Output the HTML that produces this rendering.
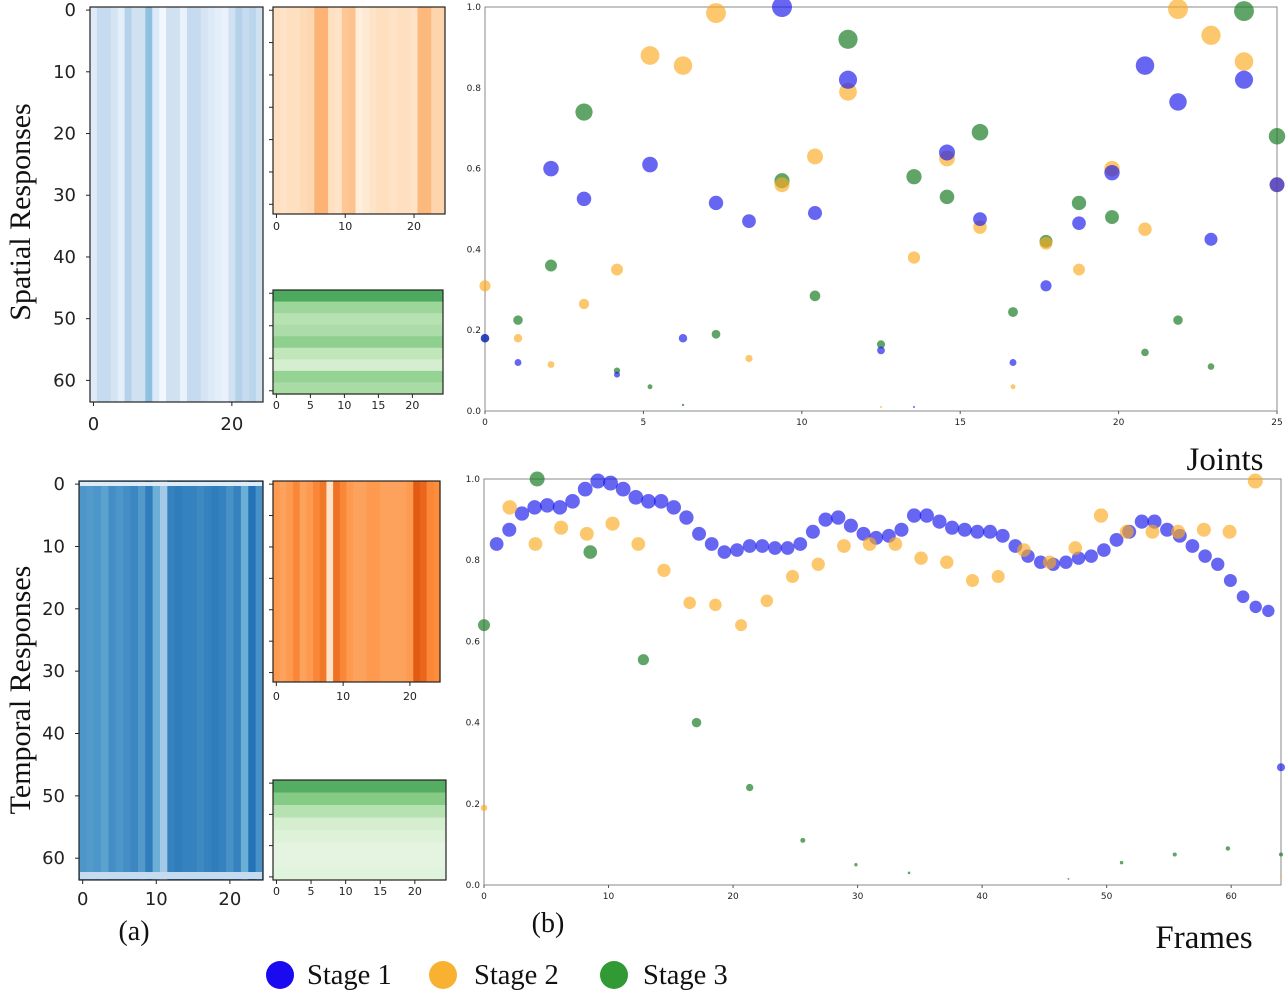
<!DOCTYPE html>
<html><head><meta charset="utf-8"><style>
html,body{margin:0;padding:0;background:#fff;}
svg{display:block;}
.t{font-family:"DejaVu Sans","Liberation Sans",sans-serif;fill:#222;}
.s{font-family:"Liberation Serif",serif;fill:#111;}
</style></head><body>
<svg id="root" width="1286" height="993" viewBox="0 0 1286 993" xmlns="http://www.w3.org/2000/svg">
<g id="heat"></g>
<g id="scat"></g>
<text class="s" x="0" y="0" font-size="30" text-anchor="middle" transform="translate(30,212) rotate(-90)">Spatial Responses</text>
<text class="s" x="0" y="0" font-size="30" text-anchor="middle" transform="translate(30,690) rotate(-90)">Temporal Responses</text>
<text class="s" x="1225" y="470" font-size="33" text-anchor="middle">Joints</text>
<text class="s" x="1204" y="948" font-size="33" text-anchor="middle">Frames</text>
<text class="s" x="134" y="940" font-size="28" text-anchor="middle">(a)</text>
<text class="s" x="548" y="932" font-size="28" text-anchor="middle">(b)</text>
<g>
<g><circle cx="280" cy="975" r="14" fill="#1a0af0"/><text class="s" x="307" y="984" font-size="28.5">Stage 1</text></g>
<g><circle cx="443" cy="975" r="14" fill="#f9b132"/><text class="s" x="474" y="984" font-size="28.5">Stage 2</text></g>
<g><circle cx="614" cy="975" r="14" fill="#319a35"/><text class="s" x="643" y="984" font-size="28.5">Stage 3</text></g>
</g>
</svg>
<script>
// ---------- data ----------
const spatialBlueCols=[0.12,0.25,0.25,0.18,0.1,0.3,0.2,0.2,0.4,0.14,0.03,0.2,0.2,0.07,0.25,0.25,0.18,0.14,0.1,0.07,0.2,0.3,0.25,0.28,0.2];
const temporalBlueCols=[0.6,0.58,0.6,0.55,0.63,0.6,0.63,0.66,0.58,0.7,0.5,0.35,0.68,0.7,0.68,0.68,0.65,0.68,0.7,0.68,0.62,0.68,0.5,0.74,0.62];
const spatialOrangeCols=[0.15,0.12,0.15,0.15,0.18,0.2,0.36,0.36,0.15,0.12,0.28,0.3,0.05,0.08,0.12,0.15,0.15,0.12,0.15,0.15,0.12,0.34,0.34,0.22,0.22];
const temporalOrangeCols=[0.45,0.42,0.45,0.52,0.42,0.45,0.52,0.58,0.12,0.6,0.52,0.45,0.42,0.42,0.45,0.45,0.42,0.42,0.42,0.42,0.45,0.68,0.64,0.52,0.5];
const spatialGreenRows=[0.62,0.38,0.3,0.33,0.42,0.27,0.18,0.4,0.34];
const temporalGreenRows=[0.6,0.45,0.3,0.18,0.13,0.1,0.1,0.12];

const jointStage1=[0.18,0.12,0.60,0.525,0.09,0.61,0.18,0.515,0.47,1.0,0.49,0.82,0.15,0.01,0.64,0.475,0.12,0.31,0.465,0.59,0.855,0.765,0.425,0.82,0.56];
const jointStage2=[0.31,0.18,0.115,0.265,0.35,0.88,0.855,0.985,0.13,0.56,0.63,0.79,0.01,0.38,0.625,0.455,0.06,0.415,0.35,0.60,0.45,0.995,0.93,0.865,0.56];
const jointStage3=[0.18,0.225,0.36,0.74,0.10,0.06,0.015,0.19,0.0,0.57,0.285,0.92,0.165,0.58,0.53,0.69,0.245,0.42,0.515,0.48,0.145,0.225,0.11,0.99,0.68];

const frameStage1=[0.0,0.84,0.875,0.915,0.93,0.935,0.93,0.945,0.975,0.995,0.99,0.975,0.955,0.945,0.945,0.93,0.905,0.865,0.84,0.82,0.825,0.835,0.835,0.83,0.83,0.84,0.87,0.9,0.905,0.885,0.865,0.855,0.86,0.875,0.91,0.91,0.895,0.88,0.875,0.87,0.87,0.86,0.835,0.81,0.795,0.79,0.795,0.805,0.81,0.825,0.85,0.87,0.895,0.895,0.875,0.86,0.835,0.81,0.79,0.75,0.71,0.685,0.675,0.29];
const frameStage2=[0.19,0.93,0.84,0.88,0.865,0.89,0.84,0.775,0.695,0.69,0.64,0.70,0.76,0.79,0.835,0.84,0.84,0.805,0.795,0.75,0.76,0.825,0.795,0.83,0.91,0.87,0.87,0.87,0.875,0.87,0.995,0.02];
const frameStage3=[0.64,1.0,0.82,0.555,0.40,0.24,0.11,0.05,0.03,0.0,0.0,0.015,0.055,0.075,0.09,0.075];

const jointTicks=[0,5,10,15,20,25];
const frameTicks=[0,10,20,30,40,50,60];
const yTicks=[0,0.2,0.4,0.6,0.8,1.0];

// ---------- helpers ----------
const NS='http://www.w3.org/2000/svg';
function mk(tag,attrs,parent){const e=document.createElementNS(NS,tag);for(const k in attrs)e.setAttribute(k,attrs[k]);parent.appendChild(e);return e;}
function lerp(a,b,t){return a.map((v,i)=>Math.round(v+(b[i]-v)*t));}
function cmap(stops,v){v=Math.max(0,Math.min(1,v));const n=stops.length-1;const p=v*n;const i=Math.min(n-1,Math.floor(p));const c=lerp(stops[i],stops[i+1],p-i);return `rgb(${c[0]},${c[1]},${c[2]})`;}
const BLUES=[[247,251,255],[198,219,239],[107,174,214],[33,113,181],[8,48,107]];
const ORANGES=[[255,245,235],[253,208,162],[253,141,60],[217,72,1],[127,39,4]];
const GREENS=[[247,252,245],[199,233,192],[116,196,118],[35,139,69],[0,68,27]];

const heat=document.getElementById('heat');
const scat=document.getElementById('scat');

function heatmap(name,x0,y0,w,h,vals,stops,byRow,nRows,yTickVals,xTickVals,big,xLabelY){
  const g=mk('g',{},heat);
  
  
  const nCols=25;
  if(!byRow){
    const cw=w/nCols;
    vals.forEach((v,i)=>{
      const r=mk('rect',{x:x0+i*cw,y:y0,width:cw+0.6,height:h,fill:cmap(stops,v)},g);
      
      
    });
  } else {
    const rh=h/vals.length;
    vals.forEach((v,i)=>{
      const r=mk('rect',{x:x0,y:y0+i*rh,width:w,height:rh+0.6,fill:cmap(stops,v)},g);
      
      
    });
  }
  mk('rect',{x:x0,y:y0,width:w,height:h,fill:'none',stroke:'#222','stroke-width':1.2},g);
  const fs=big?18:11;
  const cw=w/nCols, rh=h/nRows;
  xTickVals.forEach(t=>{
    const x=x0+(t+0.5)*cw;
    mk('line',{x1:x,x2:x,y1:y0+h,y2:y0+h+4,stroke:'#222'},g);
    const tx=mk('text',{x:x,y:xLabelY,'font-size':fs,'text-anchor':'middle',class:'t'},g);
    tx.textContent=t;
    
    
  });
  yTickVals.forEach(t=>{
    const y=y0+(t+0.5)*rh;
    mk('line',{x1:x0-4,x2:x0,y1:y,y2:y,stroke:'#222'},g);
    if(big){
      const tx=mk('text',{x:x0-14,y:y+6,'font-size':fs,'text-anchor':'end',class:'t'},g);
      tx.textContent=t;
      
      
    }
  });
}
heatmap('spatial-stage1-heatmap',90,7,173,395,spatialBlueCols,BLUES,false,64,[0,10,20,30,40,50,60],[0,20],true,430);
heatmap('temporal-stage1-heatmap',79,481,184,399,temporalBlueCols,BLUES,false,64,[0,10,20,30,40,50,60],[0,10,20],true,905);
heatmap('spatial-stage2-heatmap',273,7,172,207,spatialOrangeCols,ORANGES,false,32,[0,5,10,15,20,25,30],[0,10,20],false,230);
heatmap('temporal-stage2-heatmap',273,481,167,201,temporalOrangeCols,ORANGES,false,32,[0,5,10,15,20,25,30],[0,10,20],false,700);
heatmap('spatial-stage3-heatmap',273,290,170,104,spatialGreenRows,GREENS,true,16,[0,5,10,15],[0,5,10,15,20],false,409);
heatmap('temporal-stage3-heatmap',273,780,173,100,temporalGreenRows,GREENS,true,16,[0,5,10,15],[0,5,10,15,20],false,895);
// light top/bottom rows in temporal blue heatmap
mk('rect',{x:80,y:482,width:182,height:4,fill:'#dcebf7'},heat);
mk('rect',{x:80,y:872,width:182,height:7,fill:'#c6dbef'},heat);

const COL1='rgba(20,20,235,0.65)', COL2='rgba(252,170,30,0.65)', COL3='rgba(30,125,40,0.7)';

function scatter(name,L,R,T,B,xMax,xTicks,series,rScale){
  const g=mk('g',{},scat);
  
  
  const xs=v=>L+(R-L)*v/xMax, ys=v=>B-(B-T)*v;
  mk('rect',{x:L,y:T,width:R-L,height:B-T,fill:'none',stroke:'#888','stroke-width':1},g);
  xTicks.forEach(t=>{
    const tx=mk('text',{x:xs(t),y:B+14,'font-size':9,'text-anchor':'middle',class:'t'},g);
    tx.textContent=t;
    
    
    mk('line',{x1:xs(t),x2:xs(t),y1:B,y2:B+3,stroke:'#555'},g);
  });
  yTicks.forEach(t=>{
    const tx=mk('text',{x:L-4,y:ys(t)+3,'font-size':9,'text-anchor':'end',class:'t'},g);
    tx.textContent=t.toFixed(1);
    
    
  });
  series.forEach(s=>{
    const n=s.vals.length;
    s.vals.forEach((v,i)=>{
      const r=rScale*Math.sqrt(Math.max(v,0));
      if(r<0.6)return;
      const c=mk('circle',{cx:xs(i*xMax/(n-1)),cy:ys(v),r:r,fill:s.color},g);
      
      
    });
  });
}
scatter('joints-scatter',485,1277,7,411,25,jointTicks,[
  {name:'stage3-point',vals:jointStage3,color:COL3},
  {name:'stage2-point',vals:jointStage2,color:COL2},
  {name:'stage1-point',vals:jointStage1,color:COL1}],10);
scatter('frames-scatter',484,1281,479,885,64,frameTicks,[
  {name:'stage3-point',vals:frameStage3,color:COL3},
  {name:'stage1-point',vals:frameStage1,color:COL1},
  {name:'stage2-point',vals:frameStage2,color:COL2}],7.5);
</script>
</body></html>
